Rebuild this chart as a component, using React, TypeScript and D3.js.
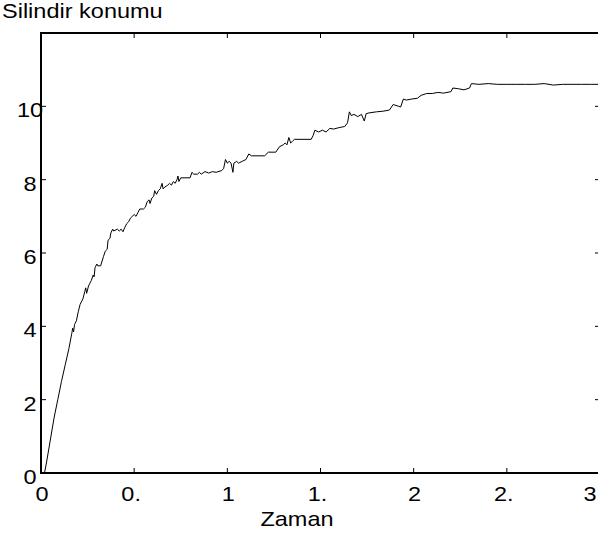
import React from 'react';
import * as d3 from 'd3';

// time (s) and cylinder position
const timeValues = [
  0, 0.01, 0.02, 0.03, 0.05, 0.07, 0.09, 0.11, 0.13, 0.15, 0.165, 0.17, 0.175, 0.18, 0.19, 0.2, 0.21, 0.225,
  0.235, 0.24, 0.245, 0.255, 0.27, 0.28, 0.285, 0.29, 0.3, 0.305, 0.32, 0.335, 0.345, 0.355, 0.36, 0.37,
  0.375, 0.385, 0.39, 0.41, 0.42, 0.43, 0.44, 0.45, 0.46, 0.47, 0.48, 0.49, 0.5, 0.51, 0.52, 0.53, 0.55,
  0.56, 0.57, 0.58, 0.585, 0.595, 0.605, 0.61, 0.62, 0.63, 0.64, 0.65, 0.655, 0.665, 0.68, 0.69, 0.7, 0.71,
  0.72, 0.73, 0.735, 0.74, 0.75, 0.8, 0.81, 0.82, 0.84, 0.85, 0.86, 0.88, 0.9, 0.92, 0.94, 0.97, 0.98, 0.99,
  1.0, 1.01, 1.02, 1.03, 1.035, 1.05, 1.06, 1.08, 1.1, 1.115, 1.13, 1.2, 1.22, 1.26, 1.28, 1.3, 1.31, 1.32,
  1.33, 1.34, 1.35, 1.36, 1.45, 1.46, 1.47, 1.49, 1.51, 1.53, 1.55, 1.57, 1.6, 1.63, 1.645, 1.655, 1.665,
  1.68, 1.7, 1.72, 1.735, 1.745, 1.76, 1.8, 1.84, 1.87, 1.89, 1.92, 1.93, 1.945, 1.96, 1.99, 2.02, 2.04,
  2.07, 2.1, 2.13, 2.16, 2.2, 2.21, 2.24, 2.27, 2.3, 2.31, 2.35, 2.4, 2.45, 2.5, 2.55, 2.6, 2.65, 2.7, 2.75,
  2.8, 2.85, 2.9, 2.95, 3.0,
];
const positionValues = [
  0, 0, 0.03, 0.3, 0.9, 1.5, 2.0, 2.5, 2.95, 3.4, 3.8, 3.95, 3.85, 4.05, 4.15, 4.4, 4.6, 4.75,
  4.95, 5.05, 4.9, 5.1, 5.25, 5.4, 5.35, 5.6, 5.7, 5.65, 5.65, 5.9, 6.05, 6.1, 6.35, 6.4,
  6.55, 6.65, 6.6, 6.65, 6.6, 6.65, 6.58, 6.7, 6.8, 6.85, 6.95, 7.0, 7.05, 7.0, 7.1, 7.2, 7.2,
  7.25, 7.4, 7.45, 7.35, 7.5, 7.55, 7.7, 7.6, 7.7, 7.75, 7.9, 7.75, 7.8, 7.85, 7.9, 7.85, 7.95,
  7.9, 8.0, 8.1, 7.95, 8.05, 8.05, 8.2, 8.15, 8.15, 8.2, 8.15, 8.22, 8.18, 8.22, 8.2, 8.25, 8.3, 8.55,
  8.45, 8.5, 8.45, 8.2, 8.45, 8.5, 8.45, 8.5, 8.55, 8.7, 8.65, 8.65, 8.75, 8.75, 8.9, 8.95, 9.0, 8.95,
  9.15, 9.0, 9.05, 9.1, 9.1, 9.2, 9.35, 9.3, 9.35, 9.3, 9.4, 9.38, 9.42, 9.45, 9.55, 9.85, 9.75,
  9.78, 9.72, 9.78, 9.6, 9.8, 9.82, 9.85, 9.87, 9.9, 10.05, 10.0, 9.98, 10.2, 10.17, 10.2, 10.22, 10.3,
  10.35, 10.35, 10.38, 10.36, 10.4, 10.5, 10.48, 10.45, 10.5, 10.62, 10.6, 10.62, 10.6, 10.6, 10.6, 10.6, 10.6, 10.62, 10.58,
  10.6, 10.6, 10.6, 10.6, 10.6,
];

const xTicks = [0, 0.5, 1, 1.5, 2, 2.5, 3];
const xTickLabels = ['0', '0.', '1', '1.', '2', '2.', '3'];
const yTicks = [0, 2, 4, 6, 8, 10, 12];
const yTickLabels = ['0', '2', '4', '6', '8', '10', ''];

const W = 598;
const H = 534;
const margin = { left: 41, top: 33, right: 600, bottom: 473 };
const FONT = 'Liberation Sans, Arial, Helvetica, sans-serif';
const FS = 21;
const SX = 1.12;

export default function App() {
  const x = d3.scaleLinear().domain([0, 3]).range([margin.left, margin.right]);
  const y = d3.scaleLinear().domain([0, 12]).range([margin.bottom, margin.top]);
  const points = timeValues.map((t, i) => [t, positionValues[i]] as [number, number]);
  const line = d3
    .line<[number, number]>()
    .x((d) => x(d[0]))
    .y((d) => y(d[1]));

  const label = (tx: number, ty: number, text: string, anchor: string) => (
    <g transform={`translate(${tx},${ty}) scale(${SX},1)`}>
      <text textAnchor={anchor} fontSize={FS} fontFamily={FONT} fill="#000">
        {text}
      </text>
    </g>
  );

  // tick labels sit a little off their ticks, the last one is pulled in at the edge
  const xLabelPos = (t: number, i: number) => {
    if (i === xTicks.length - 1) return x(t) - 10;
    return x(t) + (xTickLabels[i].includes('.') ? -3 : 1);
  };

  return (
    <svg
      width={W}
      height={H}
      style={{ position: 'absolute', left: 0, top: 0, background: '#fff' }}
    >
      {/* title and x label */}
      {label(2, 18, 'Silindir konumu', 'start')}
      {label(297, 526, 'Zaman', 'middle')}

      <path d={line(points) || ''} fill="none" stroke="#000" strokeWidth={1} />

      {/* ticks on all four sides */}
      {xTicks.map((t) => (
        <g key={`xt${t}`}>
          <line x1={x(t)} x2={x(t)} y1={margin.bottom} y2={margin.bottom - 5} stroke="#000" />
          <line x1={x(t)} x2={x(t)} y1={margin.top} y2={margin.top + 5} stroke="#000" />
        </g>
      ))}
      {yTicks.map((v) => (
        <g key={`yt${v}`}>
          <line x1={margin.left} x2={margin.left + 5} y1={y(v)} y2={y(v)} stroke="#000" />
          <line x1={margin.right} x2={margin.right - 5} y1={y(v)} y2={y(v)} stroke="#000" />
        </g>
      ))}

      <rect
        x={margin.left}
        y={margin.top}
        width={margin.right - margin.left}
        height={margin.bottom - margin.top}
        fill="none"
        stroke="#000"
        strokeWidth={2}
      />

      {xTicks.map((t, i) =>
        <React.Fragment key={`xl${t}`}>
          {label(xLabelPos(t, i), 501, xTickLabels[i], 'middle')}
        </React.Fragment>
      )}
      {yTicks.map((v, i) =>
        <React.Fragment key={`yl${v}`}>
          {label(30, y(v) + 11, yTickLabels[i], 'middle')}
        </React.Fragment>
      )}
    </svg>
  );
}
